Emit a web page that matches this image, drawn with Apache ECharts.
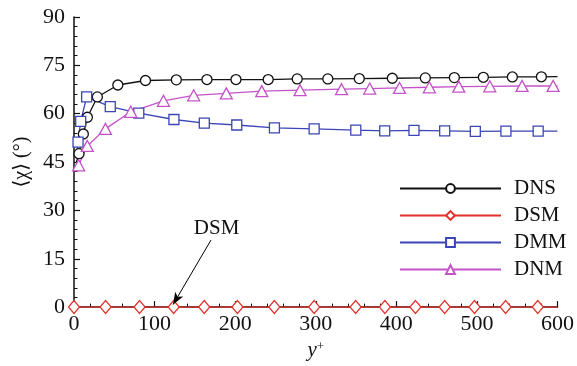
<!DOCTYPE html>
<html><head><meta charset="utf-8">
<script src="https://cdn.jsdelivr.net/npm/echarts@6/dist/echarts.min.js"></script>
<style>html,body{margin:0;padding:0;background:#fff}#c{width:577px;height:366px}</style>
</head><body><div id="c"></div>
<script>
var xTicks = [0, 100, 200, 300, 400, 500, 600];
var yTicks = [0, 15, 30, 45, 60, 75, 90];
var seriesNames = ['DNS', 'DSM', 'DMM', 'DNM'];

var dnsX = [3, 6.2, 11.6, 16.6, 29, 54.4, 88.7, 127, 165, 201, 241, 277, 315, 354, 395, 436, 472, 508, 544, 580, 600];
var dnsY = [45, 47.6, 53.7, 58.9, 65.2, 68.9, 70.3, 70.5, 70.6, 70.6, 70.6, 70.8, 70.8, 70.9, 71.0, 71.1, 71.2, 71.3, 71.4, 71.45, 71.5];

var dsmX = [0, 39.2, 81.3, 123.7, 161.6, 202.8, 248.6, 298, 349.5, 385.8, 423.7, 460, 497, 535.6, 575.5, 600];
var dsmY = [0, 0, 0, 0, 0, 0, 0, 0, 0, 0, 0, 0, 0, 0, 0, 0];

var dmmX = [3, 5, 8.3, 15.7, 45, 80.4, 124, 161.7, 202, 248.7, 298, 349.7, 385.6, 421.9, 460, 498, 536, 576, 600];
var dmmY = [47, 51.2, 57.6, 65.2, 62.2, 60.2, 58.2, 57.1, 56.5, 55.6, 55.3, 54.9, 54.7, 54.8, 54.7, 54.5, 54.6, 54.6, 54.6];

var dnmX = [3, 5.8, 16.5, 39, 70.5, 111, 148.5, 189, 233, 280.5, 332, 367, 404, 441, 477.5, 516, 556, 594.6, 600];
var dnmY = [42.5, 44, 50, 55.3, 60.6, 64, 65.7, 66.3, 67.0, 67.3, 67.6, 67.8, 68.0, 68.2, 68.4, 68.5, 68.6, 68.6, 68.6];

var annotText = 'DSM';
var annotTextAt = [177, 24.5];
var annotFrom = [170, 20.8];
var annotTo = [123, 0.8];

function build(xs, ys, noMarkEnds) {
  return xs.map(function (x, i) {
    var d = { value: [x, ys[i]] };
    if (noMarkEnds && (i === 0 || (i === xs.length - 1 && x === 600))) d.symbol = 'none';
    return d;
  });
}

var FONT = "'Liberation Serif', 'DejaVu Serif', serif";
var chart = echarts.init(document.getElementById('c'), null, { renderer: 'canvas' });

function mk(name, xs, ys, color, symbol, size, ends) {
  return {
    name: name, type: 'line', data: build(xs, ys, ends),
    symbol: symbol, symbolSize: size, showAllSymbol: true,
    lineStyle: { color: color, width: 1.3 },
    itemStyle: { color: '#fff', borderColor: color, borderWidth: 1.3 },
    emphasis: { disabled: true }, animation: false, clip: false
  };
}

var sDSM = mk('DSM', dsmX, dsmY, '#e2302a', 'diamond', [11, 13], false);
sDSM.data[sDSM.data.length - 1].symbol = 'none';
sDSM.markLine = {
  silent: true, animation: false,
  symbol: ['none', 'arrow'], symbolSize: [7, 12],
  lineStyle: { color: '#000', width: 1, type: 'solid' },
  label: { show: false },
  data: [[{ coord: annotFrom }, { coord: annotTo }]]
};
sDSM.markPoint = {
  silent: true, animation: false, symbol: 'circle', symbolSize: 0,
  label: { show: true, formatter: annotText, color: '#111', fontFamily: FONT, fontSize: 21, position: 'inside' },
  data: [{ coord: annotTextAt }]
};

var option = {
  backgroundColor: '#fff',
  animation: false,
  grid: { left: 74, right: 19, top: 17, bottom: 56, containLabel: false },
  legend: {
    orient: 'vertical', left: 394, top: 173,
    itemWidth: 101, itemHeight: 11, itemGap: 6,
    data: seriesNames,
    textStyle: { fontFamily: FONT, fontSize: 21, lineHeight: 21, color: '#111', padding: [0, 0, 0, 8] },
    selectedMode: false
  },
  xAxis: {
    type: 'value', min: xTicks[0], max: xTicks[xTicks.length - 1], interval: 100,
    name: '{i|y}{s|+}', nameLocation: 'middle', nameGap: 32,
    nameTextStyle: { rich: {
      i: { fontFamily: FONT, fontStyle: 'italic', fontSize: 21, color: '#111' },
      s: { fontFamily: FONT, fontSize: 13, color: '#111', verticalAlign: 'top', padding: [0, 0, 8, 0] }
    } },
    axisLine: { show: true, lineStyle: { color: '#111', width: 1.5 } },
    axisTick: { show: true, inside: true, length: 6, lineStyle: { color: '#111', width: 1.2 } },
    minorTick: { show: true, splitNumber: 5, length: 3.5, lineStyle: { color: '#111', width: 1 } },
    axisLabel: { fontFamily: FONT, fontSize: 22, color: '#111', margin: 6 },
    splitLine: { show: false }
  },
  yAxis: {
    type: 'value', min: yTicks[0], max: yTicks[yTicks.length - 1], interval: 15,
    name: '\u27E8\u03C7\u27E9 (\u00B0)', nameLocation: 'middle', nameGap: 34, nameRotate: 90,
    nameTextStyle: { fontFamily: FONT, fontSize: 20, color: '#111' },
    axisLine: { show: true, lineStyle: { color: '#111', width: 1.5 } },
    axisTick: { show: true, inside: true, length: 6, lineStyle: { color: '#111', width: 1.2 } },
    minorTick: { show: true, splitNumber: 5, length: 3.5, lineStyle: { color: '#111', width: 1 } },
    axisLabel: { fontFamily: FONT, fontSize: 22, color: '#111', margin: 9 },
    splitLine: { show: false }
  },
  series: [
    mk('DNS', dnsX, dnsY, '#111', 'circle', 10, true),
    sDSM,
    mk('DMM', dmmX, dmmY, '#3c45b4', 'rect', 10, true),
    mk('DNM', dnmX, dnmY, '#c553c8', 'triangle', [12, 11], true)
  ]
};
chart.setOption(option);
</script></body></html>
